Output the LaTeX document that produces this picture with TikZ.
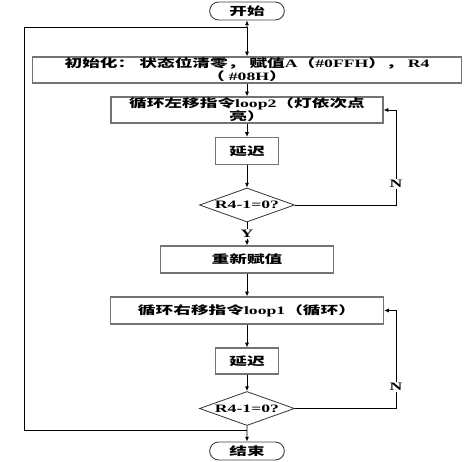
\documentclass[tikz,border=0pt]{standalone}
\usepackage{fontspec}
\setmainfont{Liberation Serif}[FakeStretch=1.56]
\newfontfamily\cjk{Noto Sans CJK SC}[FakeStretch=1.56]
\usetikzlibrary{shapes,arrows.meta,positioning,calc}
\newcommand{\lat}[1]{{\rmfamily #1}}
\tikzset{
    term/.style={draw=black!75, line width=0.7pt, rounded rectangle, minimum width=56pt, minimum height=13.5pt, inner sep=0pt},
    proc/.style={draw=black!55, line width=0.9pt, minimum height=19.5pt, inner sep=0pt, align=center},
    dec/.style={draw=black!80, line width=0.6pt, diamond, aspect=2.8, minimum width=71.25pt, minimum height=25.5pt, inner sep=0pt},
    flow/.style={line width=0.6pt, -{Latex[length=3.5pt,width=3pt]}},
    link/.style={line width=0.6pt},
    lbl/.style={fill=white, inner sep=1pt},
}

\begin{document}
\begin{tikzpicture}[x=0.75pt, y=-0.75pt, font=\cjk\bfseries\fontsize{8.5pt}{9.75pt}\selectfont]
    \useasboundingbox (0,0) rectangle (464,461);

    % Begin and end
    \node[term] (start) at (247,11) {开始};
    \node[term] (stop) at (247,451) {结束};

    % Steps
    \node[proc, minimum width=321.75pt] (init) at (247,70) {初始化： 状态位清零， 赋值\lat{A}（\lat{\#0FFH}）， \lat{R4}\\（ \lat{\#08H}）};
    \node[proc, minimum width=204pt] (shiftL) at (247,110) {循环左移指令\lat{loop2}（灯依次点\\亮）};
    \node[proc, minimum width=47.25pt, minimum height=20.25pt] (delayA) at (247,151) {延迟};
    \node[dec] (testA) at (247,205) {\lat{R4-1=0?}};
    \node[proc, minimum width=129.75pt, minimum height=20.25pt] (reset) at (247,259.5) {重新赋值};
    \node[proc, minimum width=204.75pt, minimum height=20.25pt] (shiftR) at (247,310.5) {循环右移指令\lat{loop1}（循环）};
    \node[proc, minimum width=47.25pt] (delayB) at (247,361) {延迟};
    \node[dec] (testB) at (247,408.5) {\lat{R4-1=0?}};

    % Junctions
    \coordinate (top) at (247,27);
    \coordinate (bot) at (247,430);
    \coordinate (outer) at (24,27);
    \coordinate (backA) at (396,110);
    \coordinate (backB) at (396,310.5);

    % Main flow
    \draw[flow] (top) -- (start);
    \draw[flow] (top) -- (init);
    \draw[flow] (init) -- (shiftL);
    \draw[flow] (shiftL) -- (delayA);
    \draw[flow] (delayA) -- (testA);
    \draw[flow] (testA) -- node[lbl] {\lat{Y}} (reset);
    \draw[flow] (reset) -- (shiftR);
    \draw[flow] (shiftR) -- (delayB);
    \draw[flow] (delayB) -- (testB);
    \draw[flow] (testB) -- (stop);

    % Loops back
    \draw[flow] (testA.east) -| node[lbl, pos=0.61] {\lat{N}} (backA) -- (shiftL.east);
    \draw[flow] (testB.east) -| node[lbl, pos=0.61] {\lat{N}} (backB) -- (shiftR.east);
    \draw[link] (bot) -| (outer) -- (top);
\end{tikzpicture}
\end{document}
